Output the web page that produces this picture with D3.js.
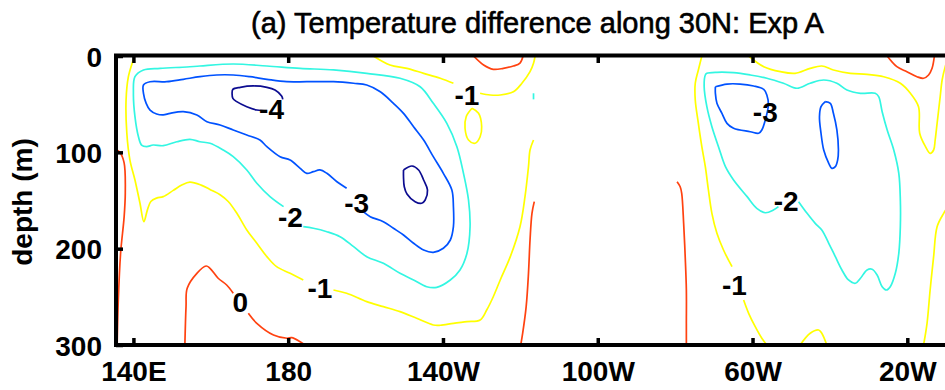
<!DOCTYPE html>
<html>
<head>
<meta charset="utf-8">
<script src="https://cdn.jsdelivr.net/npm/d3@7/dist/d3.min.js"></script>
<style>
  html, body { margin: 0; padding: 0; background: #fff; }
  svg { display: block; }
  text { font-family: "Liberation Sans", Arial, Helvetica, sans-serif; fill: #000; }
</style>
</head>
<body>
<svg id="chart" width="945" height="390"></svg>
<script>
// Longitude in degrees east (0-360), depth in metres.
const titleText = "(a) Temperature difference along 30N: Exp A";
const yLabelText = "depth (m)";
const lonDomain = [135.5, 350];
const depthDomain = [0, 300];
const xTicks = [140, 180, 220, 260, 300, 340];
const xTickLabels = ["140E", "180", "140W", "100W", "60W", "20W"];
const yTicks = [0, 100, 200, 300];
const levels = [-4, -3, -2, -1, 0];

// Contour lines: [lon, depth] vertices; null marks a break for an inline label.
// 0 contours
const c0_westEdge = [[135.5,97],[136.5,100],[137.6,111],[137.9,142],[137.6,167],[136.7,204],[136.1,253],[135.8,300]];
const c0_dome = [[153.3,300],[153.6,260.2],[153.9,241.1],[156.4,225.6],[158.8,218],[159.8,220.4],[161.9,230.7],[164.1,237.7],[165.8,246.3],null,[169.7,267.1],[171.9,277.5],[176.2,289.6],[179.7,293],[180.9,292.4],[183.1,296.6],[184.4,300]];
const c0_topMid = [[227.9,0],[230.5,9.3],[233.0,13.8],[235.6,12.8],[238.2,10.4],[239.9,7.3],[240.7,0]];
const c0_mid1 = [[243.6,151.2],[243.0,163.3],[242.5,191],[242.1,225.6],[241.5,260.2],[240.6,287.8],[240.1,300]];
const c0_mid2 = [[280.5,130.5],[281.3,135.7],[281.7,142.5],[282.2,173.7],[282.6,208.3],[282.9,242.9],[282.9,277.5],[282.9,300]];
const c0_topEast = [[334.8,0],[337.3,11.1],[339.9,16.3],[342.5,21.5],[344.2,23.1],[345.5,19.7],[346.4,12.8],[347.0,0]];

// -1 contours
const m1_west = [[140.3,0],[139.8,5.9],[138.7,21.5],[138.1,45.7],[138.3,80.2],[139.1,108],[140.4,128.7],[141.7,152.9],[142.7,172],[143.6,160],[144.5,151],[146,147.5],[147.7,146],[150.3,139.5],[152.5,134],[154.6,131],[157.5,134],[160,139],[162.4,144],[164.5,151],[166.7,163],[169.3,180.6],[171.9,194.4],[174.5,208.3],[177.0,218.7],[180.5,225.6],[183.9,232.5],null,[191.7,242.9],[195.1,246.3],[200.3,255],[204.6,260.2],[208.9,265.4],[213.2,272.3],[217.5,279.2],[219.3,279.5],[222.7,277.5],[226.2,275.8],[229.6,274],[231.3,263.7],[233.0,249.9],[234.8,232.5],[237.4,208.3],[239.9,177.2],[241.2,146],[242.1,114.9],[242.5,97.6],[243.4,87.2]];
const m1_upper = [[202.0,0],[206.3,9.3],[210.7,12.8],[215.0,18],[219.3,23.1],[222.7,28.3],null,[229.6,38.7],[232.2,40.5],[234.8,40.5],[238.2,37.1],[240.4,28.3],[242.5,16.3],[243.4,7.6],[243.8,0]];
const m1_loop = [[227.5,54.3],[229.2,59.5],[230.0,73.4],[229.6,83.8],[228.3,90.6],[226.6,87.2],[225.7,75],[226.0,63],[227.5,54.3]];
const m1_east = [[286.9,0],[286.0,14.5],[285.2,28.3],[285.2,45.7],[286.0,69.9],[286.9,94.1],[287.8,114.9],[288.6,139.1],[289.5,163.3],[290.8,184],[292.5,201.4],[294.7,218.7],null,[297.7,253.3],[299.0,267.1],[300.7,281],[302.4,293],[303.7,300]];
const m1_top = [[299.0,0],[302.9,11.1],[307.2,16.3],[311.0,18],[314.9,12.8],[317.9,10.4],[320.9,14.5],[325.3,18],[329.6,19],[333.9,21.5],[338.2,28.3],[340.8,38.7],[342.9,52.6],[343.2,80.2],[344.7,94.1],[345.9,101],[346.8,97.6],[347.2,87.2],[347.7,69.9],[348.5,42.2],[349.0,24.9],[349.8,11.1],[350.5,3]];
const m1_eastEdge = [[350.3,157.8],[349.4,163.3],[347.7,177.2],[346.8,208.3],[345.9,242.9],[345.1,277.5],[344.2,300]];
const m1_bump = [[312.3,300],[314.9,287.8],[317.1,284.4],[317.9,287.8],[319.2,300]];

// -2 contours
const m2_west = [[178.8,156.4],[175.3,146],[171.9,132.1],[169.3,118.3],[165.8,104.5],[163.2,97.6],[159.8,90.6],[157.2,89],[154.6,86.5],[151.2,89],[147.7,93.1],[145.1,92.4],[143.4,94.1],[142.1,92.4],[141.3,83.8],[140.4,63],[140.0,38.7],[140.4,21.5],[142.6,14.5],[146.9,12.8],[153.8,11.4],[157.2,10.4],[165.8,8.3],[174.5,10.4],[183.1,12.8],[191.7,14.5],[200.3,18],[208.9,23.1],[214.1,31.9],[217.5,49.1],[221.0,69.9],[223.6,94.1],[225.3,121.8],[226.6,149.5],[227.0,177.2],[226.2,204.8],[224.4,222.1],[221.9,232.5],[218.4,240.1],[215.8,239.5],[212.4,232.5],[208.9,225.6],[204.6,215.2],[200.3,208.3],[196.9,197.9],[193.4,187.6],[190.0,182.4],[186.5,178.8],[183.9,177.2]];
const m2_dash = [[243.4,38.7],[243.4,45]];
const m2_east = [[306.7,156.4],[305.4,159.9],[303.3,162.7],[301.1,158.1],[298.6,146],[295.1,128.7],[293.0,114.9],[291.2,94.1],[289.5,73.4],[288.2,52.6],[287.5,31.9],[287.8,19.7],[288.2,18],[290.8,16.9],[295.1,17.3],[299.4,19.7],[303.7,23.1],[308.0,28.3],[311.5,33.5],[314.9,28.3],[318.4,24.9],[321.8,28.3],[324.4,35.3],[327.9,38.7],[331.7,38.7],[332.6,42.2],[333.5,57.8],[334.8,76.8],[336.5,97.6],[337.8,121.8],[338.2,149.5],[338.2,177.2],[337.8,204.8],[336.9,225.6],[335.6,239.5],[334.6,242.9],[333.5,239.5],[332.2,227.3],[330.9,221.4],[329.6,222.1],[327.9,230.7],[326.6,235.9],[324.8,232.5],[323.1,222.1],[321.4,208.3],[319.7,194.4],[317.9,180.6],[316.2,173.7],[314.1,163.3],[311.9,151.2]];

// -3 contours
const m3_west = [[195.1,137.3],[192.6,130.5],[190.0,121.8],[188.2,118.3],[186.5,120.1],[184.8,121.8],[183.1,116.6],[180.5,108],[177.9,104.5],[174.5,94.1],[172.7,87.2],[169.3,82],[165.8,76.8],[162.4,71.6],[159.0,68.2],[156.4,61.2],[152.9,57.8],[149.5,59.5],[147.7,61.2],[146.0,60.2],[144.3,56.1],[143.3,49.1],[142.6,38.7],[142.6,30.1],[144.3,26.7],[148.6,26.7],[152.9,24.2],[157.2,21.5],[161.5,19.7],[165.8,19.7],[170.1,21.5],[174.5,24.2],[179.6,26.7],[184.8,26.7],[191.7,26.7],[196.9,28.3],[200.3,30.1],[203.8,37.1],[207.2,49.1],[209.8,59.5],[212.4,73.4],[215.0,87.2],[217.5,104.5],[220.1,121.8],[222.3,139.1],[222.7,156.4],[222.7,177.2],[221.9,191],[220.1,199.6],[217.5,203.8],[215.0,201.4],[212.4,194.4],[209.8,185.8],[207.2,178.8],[204.6,172],[201.2,166.8],[199.4,161.6]];
const m3_east1 = [[290.4,31.9],[293.4,29.1],[296.8,29.1],[300.3,31.1],[302.9,34.6],[303.7,40.5],[304.1,50.9],[303.3,66.4],[302.4,76.8],[301.6,80.2],[299.4,78.6],[295.1,75],[293.4,69.9],[292.1,59.5],[290.8,49.1],[290.4,38.7],[290.4,31.9]];
const m3_east2 = [[318.8,47.4],[320.1,49.1],[320.9,59.5],[321.8,76.8],[322.2,97.6],[322.0,108],[321.4,114.9],[320.5,116.6],[319.7,111.4],[318.4,97.6],[317.7,80.2],[317.3,63],[317.7,52.6],[318.8,47.4]];

// -4 contours
const m4_west = [[174.5,57.1],[171.9,56.1],[169.3,52.6],[166.7,47.4],[165.7,43.9],[165.5,38.7],[165.7,34.6],[167.6,32.5],[171.0,31.1],[174.5,32.5],[176.6,35.3],[178.3,41.5],[178.6,45]];
const m4_core = [[209.8,118.3],[212.0,114.2],[213.7,118.3],[215.0,128.7],[216.0,139.1],[215.4,149.5],[214.5,152.9],[212.8,151.2],[210.7,143.2],[210.0,135.7],[209.8,125.3],[209.8,118.3]];

// Inline contour labels: [lon, depth, level]
const contourLabels = [[175.7,54.5,-4],[197.7,152.9,-3],[180.6,166.6,-2],[188.2,241.1,-1],[167.6,255,0],[226.2,40.5,-1],[303.3,57.6,-3],[308.7,150.5,-2],[295.3,238,-1]];

const contourLines = [
  {level: 0, pts: c0_westEdge}, {level: 0, pts: c0_dome}, {level: 0, pts: c0_topMid},
  {level: 0, pts: c0_mid1}, {level: 0, pts: c0_mid2}, {level: 0, pts: c0_topEast},
  {level: -1, pts: m1_west}, {level: -1, pts: m1_upper}, {level: -1, pts: m1_loop},
  {level: -1, pts: m1_east}, {level: -1, pts: m1_top}, {level: -1, pts: m1_eastEdge},
  {level: -1, pts: m1_bump},
  {level: -2, pts: m2_west}, {level: -2, pts: m2_dash}, {level: -2, pts: m2_east},
  {level: -3, pts: m3_west}, {level: -3, pts: m3_east1}, {level: -3, pts: m3_east2},
  {level: -4, pts: m4_west}, {level: -4, pts: m4_core}
];

// ---- drawing ----
const svg = d3.select("#chart");
const plot = {left: 116, right: 946, top: 56, bottom: 345};

const x = d3.scaleLinear().domain(lonDomain).range([plot.left, plot.right]);
const y = d3.scaleLinear().domain(depthDomain).range([plot.top, plot.bottom]);

// jet-like colours per contour level
const color = d3.scaleOrdinal().domain(levels)
  .range(["#0c0c90", "#0052ff", "#33f6e2", "#ffff00", "#ff4210"]);

svg.append("defs").append("clipPath").attr("id", "plotClip")
  .append("rect")
  .attr("x", plot.left).attr("y", plot.top)
  .attr("width", plot.right - plot.left).attr("height", plot.bottom - plot.top);

const line = d3.line()
  .defined(d => d !== null)
  .x(d => x(d[0]))
  .y(d => y(d[1]))
  .curve(d3.curveCatmullRom.alpha(0.5));

const g = svg.append("g").attr("clip-path", "url(#plotClip)");
g.selectAll("path.contour")
  .data(contourLines)
  .join("path")
  .attr("class", "contour")
  .attr("d", d => line(d.pts))
  .attr("fill", "none")
  .attr("stroke", d => color(d.level))
  .attr("stroke-width", 1.7)
  .attr("stroke-linejoin", "round");

// contour labels
svg.append("g").selectAll("text")
  .data(contourLabels)
  .join("text")
  .attr("x", d => x(d[0]))
  .attr("y", d => y(d[1]))
  .attr("dy", "0.36em")
  .attr("text-anchor", "middle")
  .attr("font-size", 28)
  .attr("font-weight", "bold")
  .text(d => d3.format("d")(d[2]).replace("\u2212", "-"));

// axes with inward ticks
const xLab = d3.scaleOrdinal().domain(xTicks).range(xTickLabels);
const axisBottom = d3.axisBottom(x).tickValues(xTicks).tickFormat(d => xLab(d))
  .tickSizeInner(-7).tickSizeOuter(0).tickPadding(16);
const axisTop = d3.axisTop(x).tickValues(xTicks).tickFormat("")
  .tickSizeInner(-7).tickSizeOuter(0);
const axisLeft = d3.axisLeft(y).tickValues(yTicks).tickFormat(d3.format("d"))
  .tickSizeInner(-7).tickSizeOuter(0).tickPadding(14);

function styleAxis(sel) {
  sel.select(".domain").remove();
  sel.selectAll(".tick line").attr("stroke", "#000").attr("stroke-width", 3.5);
  sel.selectAll(".tick text")
    .attr("font-size", 28).attr("font-weight", "bold")
    .attr("font-family", "'Liberation Sans', Arial, sans-serif").attr("fill", "#000");
}

svg.append("g").attr("transform", `translate(0,${plot.bottom})`).call(axisBottom).call(styleAxis)
  .selectAll(".tick text").attr("dy", "0.71em");
svg.append("g").attr("transform", `translate(0,${plot.top})`).call(axisTop).call(styleAxis);
svg.append("g").attr("transform", `translate(${plot.left},0)`).call(axisLeft).call(styleAxis)
  .selectAll(".tick text").attr("dy", "0.36em");

// frame
svg.append("rect")
  .attr("x", plot.left).attr("y", plot.top - 0.5)
  .attr("width", plot.right - plot.left + 4).attr("height", plot.bottom - plot.top + 0.5)
  .attr("fill", "none").attr("stroke", "#000").attr("stroke-width", 4);

// title
svg.append("text")
  .attr("x", 537.5).attr("y", 33)
  .attr("text-anchor", "middle")
  .attr("font-size", 29)
  .attr("stroke", "#000").attr("stroke-width", 0.6)
  .text(titleText);

// y axis label
svg.append("text")
  .attr("transform", "translate(32,202) rotate(-90)")
  .attr("text-anchor", "middle")
  .attr("font-size", 28)
  .attr("font-weight", "bold")
  .text(yLabelText);
</script>
</body>
</html>
